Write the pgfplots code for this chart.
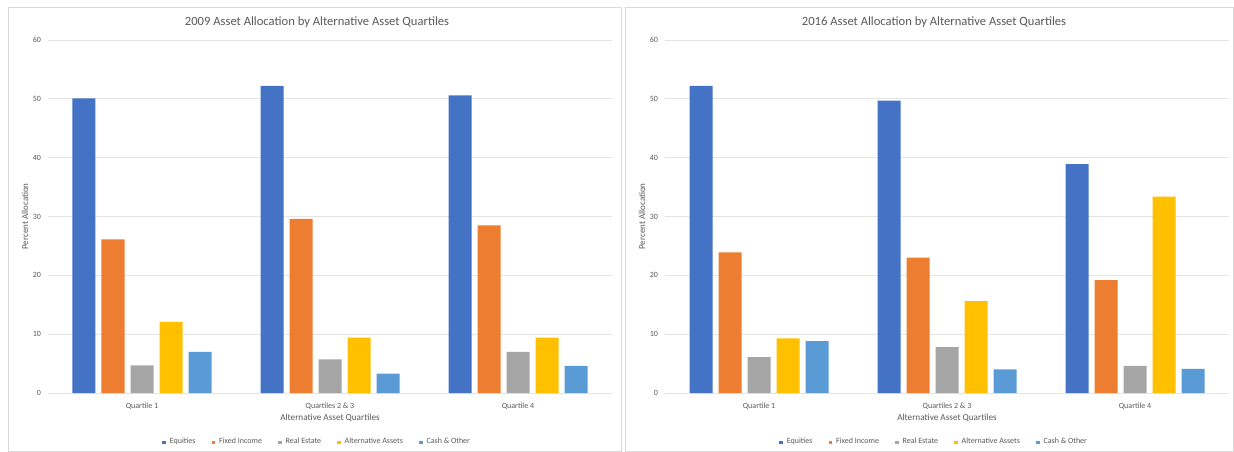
\documentclass[border=0pt]{standalone}
\usepackage{fontspec}
\setmainfont{Carlito}
\usepackage{pgfplots}
\pgfplotsset{compat=1.18}

\definecolor{cEq}{HTML}{4472C4}
\definecolor{cFi}{HTML}{ED7D31}
\definecolor{cRe}{HTML}{A5A5A5}
\definecolor{cAl}{HTML}{FFC000}
\definecolor{cCa}{HTML}{5B9BD5}
\definecolor{gridc}{HTML}{E4E4E4}
\definecolor{txt}{HTML}{595959}
\definecolor{framec}{HTML}{D9D9D9}

\pgfplotsset{
  alloc/.style={
    scale only axis, width=282pt, height=176.5pt, anchor=south west,
    ybar=3pt, bar width=11.5pt,
    ymin=0, ymax=60, ytick={0,10,...,60},
    xmin=-0.5, xmax=2.5, xtick={0,1,2},
    xticklabels={Quartile 1, Quartiles 2 \& 3, Quartile 4},
    axis line style={draw=none}, major tick length=0pt,
    ymajorgrids, grid style={draw=gridc, line width=0.5pt},
    tick label style={font=\fontsize{4}{5}\selectfont, text=txt},
    /pgf/number format/assume math mode=true,
    xticklabel style={yshift=-1.5pt},
    title style={at={(0.477,1)}, anchor=center, yshift=3pt,
      font=\fontsize{6.3}{7}\selectfont, text=txt},
    xlabel={Alternative Asset Quartiles},
    xlabel style={at={(axis description cs:0.5,0)}, anchor=center, yshift=-12.5pt,
      font=\fontsize{4.6}{5.5}\selectfont, text=txt},
    ylabel={Percent Allocation},
    ylabel style={at={(axis description cs:0,0.5)}, anchor=center, yshift=11.5pt,
      font=\fontsize{4.5}{5.5}\selectfont, text=txt},
    legend style={at={(0.479,-0.14)}, anchor=center, draw=none, fill=none,
      legend columns=5, font=\fontsize{4}{5}\selectfont, text=txt,
      /tikz/every even column/.append style={column sep=6pt},
      inner sep=0pt},
    every axis plot post/.append style={draw=none,
      legend image code/.code={\fill[##1] (0pt,-0.9pt) rectangle (1.8pt,0.9pt);}},
  }
}

\begin{document}
\begin{tikzpicture}
\path[use as bounding box] (0,0) rectangle (617pt,225.5pt);
\draw[framec, line width=0.5pt] (4pt,0pt) rectangle (310.5pt,221.5pt);
\draw[framec, line width=0.5pt] (312.5pt,0pt) rectangle (616.5pt,221.5pt);

% 2009
\begin{axis}[alloc, at={(24pt,29pt)},
  title={2009 Asset Allocation by Alternative Asset Quartiles}]
\addplot[fill=cEq] coordinates {(0,50.1) (1,52.2) (2,50.6)};
\addplot[fill=cFi] coordinates {(0,26.1) (1,29.6) (2,28.5)};
\addplot[fill=cRe] coordinates {(0,4.7) (1,5.7) (2,7.0)};
\addplot[fill=cAl] coordinates {(0,12.1) (1,9.4) (2,9.4)};
\addplot[fill=cCa] coordinates {(0,7.0) (1,3.3) (2,4.6)};
\legend{Equities, Fixed Income, Real Estate, Alternative Assets, Cash \& Other}
\end{axis}

% 2016
\begin{axis}[alloc, at={(332.5pt,29pt)},
  title={2016 Asset Allocation by Alternative Asset Quartiles}]
\addplot[fill=cEq] coordinates {(0,52.2) (1,49.7) (2,38.9)};
\addplot[fill=cFi] coordinates {(0,23.9) (1,23.0) (2,19.2)};
\addplot[fill=cRe] coordinates {(0,6.1) (1,7.8) (2,4.6)};
\addplot[fill=cAl] coordinates {(0,9.3) (1,15.6) (2,33.4)};
\addplot[fill=cCa] coordinates {(0,8.8) (1,4.0) (2,4.1)};
\legend{Equities, Fixed Income, Real Estate, Alternative Assets, Cash \& Other}
\end{axis}
\end{tikzpicture}
\end{document}
